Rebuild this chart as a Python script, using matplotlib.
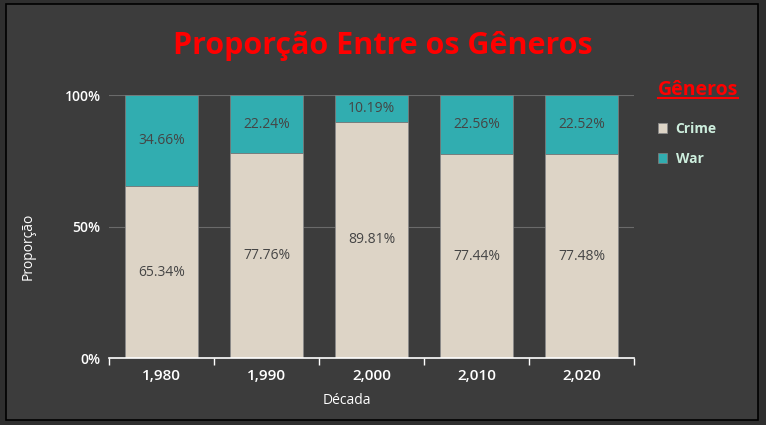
import matplotlib
matplotlib.use("Agg")
import matplotlib.pyplot as plt
from matplotlib.patches import Rectangle
from matplotlib.lines import Line2D
import numpy as np

decades = ["1,980", "1,990", "2,000", "2,010", "2,020"]
crime = [65.34, 77.76, 89.81, 77.44, 77.48]
war = [34.66, 22.24, 10.19, 22.56, 22.52]
series_names = ["Crime", "War"]
yticks = [0, 50, 100]
ytick_labels = ["0%", "50%", "100%"]

plt.rcParams['font.family'] = ['Open Sans', 'DejaVu Sans']

BG = '#3c3c3c'
CRIME_C = '#ddd4c6'
WAR_C = '#31adb0'

fig = plt.figure(figsize=(7.66, 4.25), dpi=100)
fig.patch.set_facecolor('#2f2f2f')
# chart area panel
fig.add_artist(Rectangle((6/766, 1 - 420/425), 752/766, 416/425, transform=fig.transFigure,
                         facecolor=BG, edgecolor='black', linewidth=1.2, zorder=0))

ax = fig.add_axes([109/766, 1 - 358/425, 525/766, 263/425])
ax.set_facecolor(BG)

x = np.arange(len(decades))
w = 0.69
b1 = ax.bar(x, crime, width=w, color=CRIME_C, edgecolor='#8a8a8a', linewidth=0.6, zorder=3, label=series_names[0])
b2 = ax.bar(x, war, width=w, bottom=crime, color=WAR_C, edgecolor='#7a7a7a', linewidth=0.6, zorder=3, label=series_names[1])

for i in range(len(decades)):
    ax.text(x[i], crime[i] / 2, f"{crime[i]:.2f}%", ha='center', va='center', fontsize=10, color='#454545', zorder=4)
    ax.text(x[i], crime[i] + war[i] / 2, f"{war[i]:.2f}%", ha='center', va='center', fontsize=10, color='#454545', zorder=4)

ax.set_xlim(-0.5, len(decades) - 0.5)
ax.set_ylim(0, 100)
ax.set_yticks(yticks)
ax.set_yticklabels(ytick_labels, color='white', fontsize=10, fontweight='semibold')
ax.tick_params(axis='y', length=0, pad=6)
ax.set_xticks(x)
ax.set_xticklabels(decades, color='white', fontsize=11, fontweight='semibold')
ax.set_xticks(np.arange(-0.5, len(decades)), minor=True)
ax.tick_params(axis='x', which='major', length=0, pad=8)
ax.tick_params(axis='x', which='minor', length=5, color='white', width=1)
ax.yaxis.grid(True, color='#6a6a6a', linewidth=0.8, zorder=0)
ax.set_axisbelow(True)
for s in ['top', 'right', 'left']:
    ax.spines[s].set_visible(False)
ax.spines['bottom'].set_color('white')
ax.spines['bottom'].set_linewidth(1.2)
ax.spines['bottom'].set_zorder(5)

ax.set_xlabel("Década", color='white', fontsize=10)
ax.set_ylabel("Proporção", color='white', fontsize=10)
ax.xaxis.set_label_coords((347 - 109) / 525, (358 - 393) / 263)
ax.yaxis.set_label_coords((36 - 109) / 525, (358 - 246) / 263)

fig.text(383 / 766, 1 - 46/425, "Proporção Entre os Gêneros", ha='center', va='center',
         color='#ff0000', fontsize=22, fontweight='bold')

leg = ax.legend(handles=[b1, b2], title="Gêneros", loc='upper left', bbox_to_anchor=(652/766, 1 - 74/425),
                bbox_transform=fig.transFigure, frameon=False, fontsize=10, handlelength=0.7, handleheight=0.7,
                labelspacing=1.15, handletextpad=0.6, borderaxespad=0, alignment='left')
leg.get_title().set_color('#ff0000')
leg.get_title().set_fontweight('bold')
leg.get_title().set_fontsize(14)
leg._legend_box.sep = 16
for t in leg.get_texts():
    t.set_color('#cdeedd')
    t.set_fontweight('bold')

fig.canvas.draw()
bb = leg.get_title().get_window_extent().transformed(fig.transFigure.inverted())
fig.add_artist(Line2D([bb.x0, bb.x1], [bb.y0 + 0.004, bb.y0 + 0.004], color='#ff0000', linewidth=1.5, transform=fig.transFigure))

fig.savefig("out.png", dpi=100, facecolor=fig.get_facecolor())
